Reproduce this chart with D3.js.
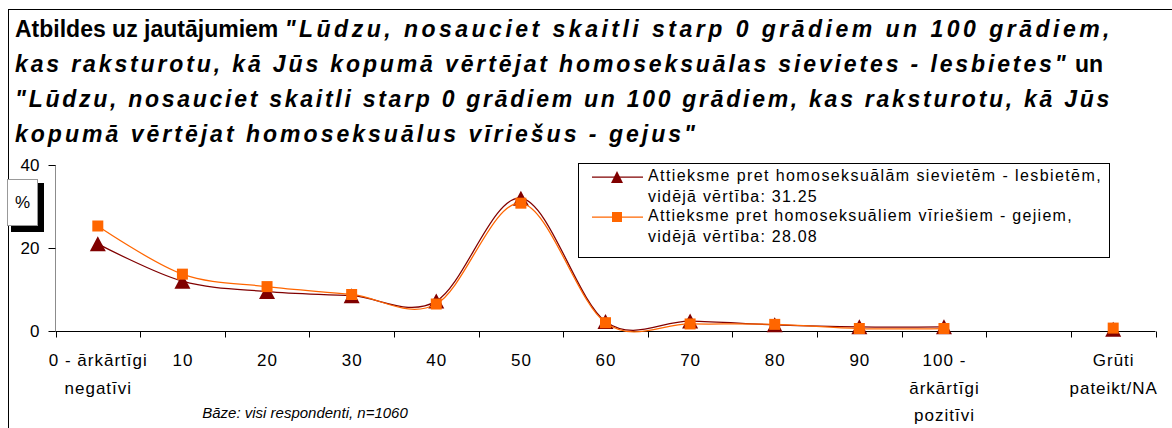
<!DOCTYPE html>
<html>
<head>
  <meta charset="utf-8">
  <script src="https://d3js.org/d3.v7.min.js"></script>
  <style>
    body { margin: 0; background: #fff; }
    svg text { font-family: Arial, "Liberation Sans", sans-serif; fill: #000; }
  </style>
</head>
<body>
<script type="text/javascript">
// categories on the x axis (one empty slot before the NA column)
var categories = ["0", "10", "20", "30", "40", "50", "60", "70", "80", "90", "100", "gap", "NA"];
var tickLabels = [
  ["0 - ārkārtīgi", "negatīvi"], ["10"], ["20"], ["30"], ["40"], ["50"], ["60"],
  ["70"], ["80"], ["90"], ["100 -", "ārkārtīgi", "pozitīvi"], [], ["Grūti", "pateikt/NA"]
];
// % of respondents
var lesbietes = [21, 12, 9.5, 8.5, 7.2, 32, 2.3, 2.4, 1.5, 1.0, 1.0, null, 0.4];
var geji = [25.3, 13.7, 10.7, 8.8, 6.5, 30.8, 2.0, 1.7, 1.6, 0.6, 0.6, null, 0.7];
var yTicks = [0, 20, 40];

var seriesNames = [
  ["Attieksme pret homoseksuālām sievietēm - lesbietēm,", "vidējā vērtība: 31.25"],
  ["Attieksme pret homoseksuāliem vīriešiem - gejiem,", "vidējā vērtība: 28.08"]
];
var titleLines = [
  [["Atbildes uz jautājumiem ", false], ["\"Lūdzu, nosauciet skaitli starp 0 grādiem un 100 grādiem,", true]],
  [["kas raksturotu, kā Jūs kopumā vērtējat homoseksuālas sievietes - lesbietes\"", true], [" un", false]],
  [["\"Lūdzu, nosauciet skaitli starp 0 grādiem un 100 grādiem, kas raksturotu, kā Jūs", true]],
  [["kopumā vērtējat homoseksuālus vīriešus - gejus\"", true]]
];
var baseNote = "Bāze: visi respondenti, n=1060";

function draw() {
  "use strict";
  var width = 1172, height = 428;

  var svg = d3.select("body").append("svg")
      .attr("width", width)
      .attr("height", height);

  // outer frame (right and bottom edges fall outside the picture)
  svg.append("rect")
      .attr("x", 8.5).attr("y", 9.5)
      .attr("width", 1200).attr("height", 500)
      .attr("fill", "none").attr("stroke", "#000");

  // title - excel spreads the italic letters, so stretch them to the same right edge
  var titleEnds = [1113, 1103, 1112, 698];
  var title = svg.append("g").attr("class", "title");
  titleLines.forEach(function (parts, i) {
    var t = title.append("text")
        .attr("x", 15)
        .attr("y", 37 + i * 35)
        .style("font-size", "23px")
        .style("font-weight", "bold");
    var nItal = 0;
    parts.forEach(function (p) {
      t.append("tspan")
          .attr("class", p[1] ? "ital" : "plain")
          .style("font-style", p[1] ? "italic" : "normal")
          .text(p[0]);
      if (p[1]) nItal += p[0].length;
    });
    var w = t.node().getComputedTextLength();
    var ls = (titleEnds[i] - 15 - w) / nItal;
    t.selectAll("tspan.ital").style("letter-spacing", ls + "px");
  });

  var x = d3.scaleBand().domain(categories).range([55.5, 1155.5]).padding(0);
  var y = d3.scaleLinear().domain([0, 40]).range([331, 165]);
  var cx = function (i) { return x(categories[i]) + x.bandwidth() / 2; };

  // y axis
  var yAxis = svg.append("g").attr("transform", "translate(55.5,0)");
  yAxis.append("line")
      .attr("y1", y(40)).attr("y2", y(0))
      .attr("stroke", "#8c8c8c");
  yAxis.selectAll(".tick").data(yTicks).enter().append("line")
      .attr("x1", -7).attr("x2", 0)
      .attr("y1", function (d) { return Math.round(y(d)) + 0.5; })
      .attr("y2", function (d) { return Math.round(y(d)) + 0.5; })
      .attr("stroke", "#000");
  yAxis.selectAll(".lbl").data(yTicks).enter().append("text")
      .attr("x", -16)
      .attr("y", function (d) { return y(d) + 6; })
      .attr("text-anchor", "end")
      .style("font-size", "17px")
      .text(function (d) { return d; });

  // "%" box with shadow
  svg.append("rect").attr("x", 11).attr("y", 183).attr("width", 33).attr("height", 49).attr("fill", "#000");
  svg.append("rect").attr("x", 7.5).attr("y", 179.5).attr("width", 30).attr("height", 46)
      .attr("fill", "#fff").attr("stroke", "#999");
  svg.append("text").attr("x", 22.5).attr("y", 208).attr("text-anchor", "middle")
      .style("font-size", "17px").text("%");

  // x axis
  var xAxis = svg.append("g").attr("transform", "translate(0,331.5)");
  xAxis.append("line").attr("x1", 55.5).attr("x2", 1155.5).attr("stroke", "#000");
  var bounds = categories.map(function (c) { return x(c); }).concat([x.range()[1]]);
  xAxis.selectAll(".tick").data(bounds).enter().append("line")
      .attr("x1", function (d) { return Math.round(d) + 0.5; })
      .attr("x2", function (d) { return Math.round(d) + 0.5; })
      .attr("y1", 0).attr("y2", 6)
      .attr("stroke", "#000");
  tickLabels.forEach(function (lines, i) {
    lines.forEach(function (s, j) {
      svg.append("text")
          .attr("x", cx(i) + 0.5)
          .attr("y", 366 + j * 27.5)
          .attr("text-anchor", "middle")
          .style("font-size", "17px")
          .style("letter-spacing", "1px")
          .text(s);
    });
  });

  svg.append("text")
      .attr("x", 305).attr("y", 418)
      .attr("text-anchor", "middle")
      .style("font-size", "15px")
      .style("font-style", "italic")
      .text(baseNote);

  // lines + markers
  var line = d3.line()
      .defined(function (d) { return d !== null; })
      .x(function (d, i) { return cx(i); })
      .y(function (d) { return y(d); })
      .curve(d3.curveCardinal.tension(0));

  var tri = function (w, h) {
    return "M0," + (-h / 2) + "L" + (w / 2) + "," + (h / 2) + "L" + (-w / 2) + "," + (h / 2) + "Z";
  };
  var sq = function (s) {
    return "M" + (-s / 2) + "," + (-s / 2) + "h" + s + "v" + s + "h" + (-s) + "Z";
  };

  var series = [
    { values: lesbietes, color: "#800000", marker: tri(16, 15) },
    { values: geji, color: "#ff6600", marker: sq(11) }
  ];

  series.forEach(function (s) {
    // the NA column is not connected to the line
    var lineVals = s.values.slice(0, 11);
    svg.append("path")
        .datum(lineVals)
        .attr("d", line)
        .attr("fill", "none")
        .attr("stroke", s.color)
        .attr("stroke-width", 1.25);
    svg.append("g").selectAll("path")
        .data(s.values.map(function (v, i) { return { v: v, i: i }; })
          .filter(function (d) { return d.v !== null; }))
        .enter().append("path")
        .attr("transform", function (d) { return "translate(" + cx(d.i) + "," + y(d.v) + ")"; })
        .attr("d", s.marker)
        .attr("fill", s.color);
  });

  // legend
  var legend = svg.append("g").attr("class", "legend");
  legend.append("rect")
      .attr("x", 578.5).attr("y", 163.5)
      .attr("width", 531).attr("height", 94)
      .attr("fill", "#fff").attr("stroke", "#000");
  var legMarkers = [tri(12, 12), sq(10)];
  var legEnds = [[1102, 818], [1073, 818]];
  seriesNames.forEach(function (lines, i) {
    var ly = 177 + i * 40;
    legend.append("line")
        .attr("x1", 592).attr("x2", 643)
        .attr("y1", ly).attr("y2", ly)
        .attr("stroke", series[i].color).attr("stroke-width", 1.25);
    legend.append("path")
        .attr("transform", "translate(617," + ly + ")")
        .attr("d", legMarkers[i])
        .attr("fill", series[i].color);
    lines.forEach(function (s, j) {
      var t = legend.append("text")
          .attr("x", 648)
          .attr("y", ly + 4 + j * 21)
          .style("font-size", "16px")
          .text(s);
      var w = t.node().getComputedTextLength();
      t.style("letter-spacing", ((legEnds[i][j] - 648 - w) / s.length) + "px");
    });
  });
}

draw();
</script>
</body>
</html>
